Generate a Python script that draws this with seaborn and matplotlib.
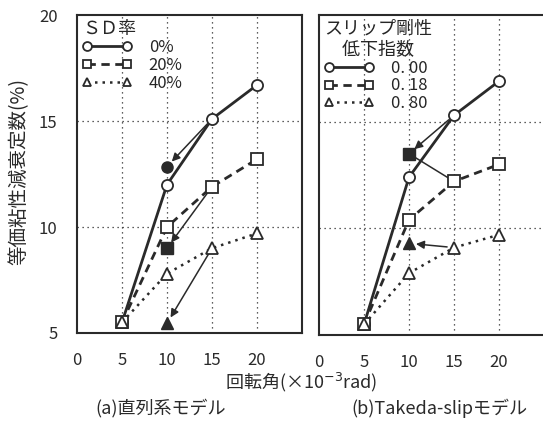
import matplotlib
matplotlib.use("Agg")
import matplotlib.pyplot as plt
import seaborn as sns

# ===============================
# Data
# ===============================
rot = [5, 10, 15, 20]

# (a) series model, SD ratio
sd_labels = ["0%", "20%", "40%"]
sd_vals = [
    [5.5, 12.0, 15.1, 16.7],
    [5.5, 10.0, 11.9, 13.2],
    [5.5, 7.8, 9.0, 9.7],
]
sd_filled = [12.85, 9.0, 5.45]   # filled markers at rot=10

# (b) Takeda-slip model, slip stiffness reduction index
slip_labels = ["0. 00", "0. 18", "0. 80"]
slip_vals = [
    [5.5, 12.4, 15.3, 16.9],
    [5.5, 10.4, 12.2, 13.0],
    [5.5, 7.9, 9.1, 9.7],
]
slip_filled = [13.5, 9.3]         # filled square, filled triangle at rot=10

markers = ["o", "s", "^"]
styles = ["-", (0, (3, 2)), (0, (1, 2))]
widths = [2.0, 2.0, 1.8]
INK = "#2a2a2a"

sns.set_style("white")
plt.rcParams["font.family"] = ["Noto Sans CJK JP", "DejaVu Sans"]

fig = plt.figure(figsize=(5.43, 4.29), dpi=100)
ax1 = fig.add_axes([0.1418, 0.2238, 0.4144, 0.741])
ax2 = fig.add_axes([0.5875, 0.219, 0.4144, 0.746])


def draw_series(ax, vals, labels):
    for v, lab, m, ls, lw in zip(vals, labels, markers, styles, widths):
        sns.lineplot(x=rot, y=v, ax=ax, color=INK, linestyle=ls, linewidth=lw,
                     marker=m, markersize=8, markerfacecolor="white",
                     markeredgecolor=INK, markeredgewidth=1.3, label=lab,
                     zorder=3)


def arrow(ax, start, end, head=True):
    ax.annotate("", xy=end, xytext=start,
                arrowprops=dict(arrowstyle="-|>" if head else "-", color=INK,
                                lw=1.1, mutation_scale=12,
                                shrinkA=5, shrinkB=5 if head else 0),
                zorder=2)


def style_axes(ax, show_y):
    ax.set_xlim(0, 25)
    ax.set_ylim(5, 20)
    ax.set_xticks([0, 5, 10, 15, 20])
    ax.set_yticks([5, 10, 15, 20])
    for x in [5, 10, 15, 20]:
        ax.axvline(x, color=INK, linestyle=(0, (1, 3)), linewidth=0.9, zorder=1)
    for y in [10, 15]:
        ax.axhline(y, color=INK, linestyle=(0, (1, 3)), linewidth=0.9, zorder=1)
    for s in ax.spines.values():
        s.set_color(INK)
        s.set_linewidth(1.5)
    ax.tick_params(axis="both", length=0, labelsize=12, colors=INK, pad=14)
    if not show_y:
        ax.set_yticklabels([])
    ax.set_xlabel("")
    ax.set_ylabel("")


def make_legend(ax, title):
    leg = ax.legend(title=title, loc="upper left", frameon=False, fontsize=12,
                    title_fontsize=13, handlelength=3.0, handletextpad=1.0,
                    labelspacing=0.05, borderaxespad=0.1, borderpad=0.2,
                    numpoints=2, markerscale=0.8)
    leg._legend_box.align = "left"
    return leg


# ===============================
# (a) panel
# ===============================
draw_series(ax1, sd_vals, sd_labels)
ax1.plot(10, sd_filled[0], "o", color=INK, markersize=8, zorder=4)
ax1.plot(10, sd_filled[1], "s", color=INK, markersize=8, zorder=4)
ax1.plot(10, sd_filled[2], "^", color=INK, markersize=8, zorder=4)
arrow(ax1, (15, sd_vals[0][2]), (10, sd_filled[0]))
arrow(ax1, (15, sd_vals[1][2]), (10, sd_filled[1]))
arrow(ax1, (15, sd_vals[2][2]), (10, sd_filled[2]))
style_axes(ax1, True)
make_legend(ax1, "ＳＤ率")

# ===============================
# (b) panel
# ===============================
draw_series(ax2, slip_vals, slip_labels)
ax2.plot(10, slip_filled[0], "s", color=INK, markersize=8, zorder=4)
ax2.plot(10, slip_filled[1], "^", color=INK, markersize=8, zorder=4)
arrow(ax2, (15, slip_vals[0][2]), (10, slip_filled[0]))
arrow(ax2, (15, slip_vals[1][2]), (10, slip_filled[0]), head=False)
arrow(ax2, (15, slip_vals[2][2]), (10, slip_filled[1]))
style_axes(ax2, False)
make_legend(ax2, "スリップ剛性\n　低下指数")

# ===============================
# Labels
# ===============================
fig.text(0.035, 0.60, "等価粘性減衰定数(%)", rotation=90, ha="center",
         va="center", fontsize=14, color=INK)
fig.text(0.555, 0.108, "回転角(×10$^{-3}$rad)", ha="center", va="center",
         fontsize=13, color=INK)
fig.text(0.295, 0.048, "(a)直列系モデル", ha="center", va="center",
         fontsize=13, color=INK)
fig.text(0.81, 0.048, "(b)Takeda-slipモデル", ha="center", va="center",
         fontsize=13, color=INK)

fig.savefig("out.png", dpi=100)
